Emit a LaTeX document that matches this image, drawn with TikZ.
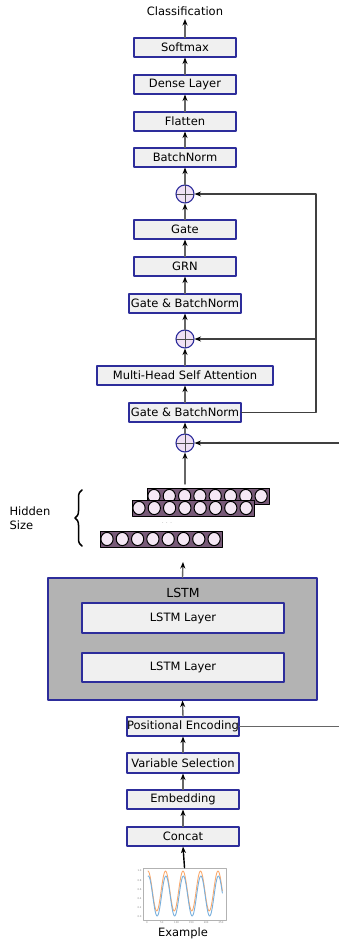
\documentclass[tikz,border=0pt]{standalone}
\usepackage{fontspec}
\setmainfont{DejaVu Sans}
\usetikzlibrary{arrows.meta,decorations.pathreplacing}
\definecolor{navy}{RGB}{45,45,155}
\definecolor{boxgray}{RGB}{240,240,240}
\definecolor{lstmgray}{RGB}{179,179,179}
\definecolor{sumpink}{RGB}{240,225,245}
\definecolor{rowpurple}{RGB}{120,90,120}
\definecolor{cellpink}{RGB}{245,232,245}
\definecolor{curveorange}{RGB}{250,170,110}
\definecolor{curveblue}{RGB}{120,175,220}

\begin{document}
\begin{tikzpicture}[line cap=round,line join=round,x=1pt,y=-1pt,
    font=\fontsize{11.5}{14}\selectfont,
    blk/.style={draw=navy,fill=boxgray,line width=1.1pt,minimum height=19pt,inner sep=0pt},
    sum/.style={circle,draw=navy,fill=sumpink,line width=1.1pt,minimum size=18pt,inner sep=0pt,
      path picture={\draw[black!70,line width=0.8pt]
        (path picture bounding box.north) -- (path picture bounding box.south)
        (path picture bounding box.west) -- (path picture bounding box.east);}},
    arr/.style={draw=black!60,line width=1.4pt,-{Stealth[length=6.5pt,width=5pt,black]}}]
\useasboundingbox (0,0) rectangle (339,945);
		% sortie
		\node (cls) at (185,11) {Classification};
		\node[blk,minimum width=102pt] (soft) at (185,47.5) {Softmax};
		\node[blk,minimum width=102pt] (dense) at (185,84.5) {Dense Layer};
		\node[blk,minimum width=102pt] (flat) at (185,121.5) {Flatten};
		\node[blk,minimum width=102pt] (bn) at (185,157.5) {BatchNorm};
		% attention
		\node[sum] (p1) at (185,194) {};
		\node[blk,minimum width=102pt] (gate) at (185,229.5) {Gate};
		\node[blk,minimum width=102pt] (grn) at (185,266.5) {GRN};
		\node[blk,minimum width=112pt] (gbn1) at (185,303.5) {Gate \& BatchNorm};
		\node[sum] (p2) at (185,339) {};
		\node[blk,minimum width=176pt] (mhsa) at (185,375.5) {Multi-Head Self Attention};
		\node[blk,minimum width=112pt] (gbn2) at (185,412.5) {Gate \& BatchNorm};
		\node[sum] (p3) at (185,443) {};
		\coordinate (hid) at (185,484);
		\coordinate (fb) at (316,339);
		\coordinate (resin) at (339,443);
		% sorties cachees
		\foreach \xa/\ya in {147/488,132/500,100/531}{
			\filldraw[fill=rowpurple,line width=1pt] (\xa,\ya) rectangle ++(122.5,16);
			\foreach \i in {0,...,7}
				\filldraw[fill=cellpink,line width=1pt] (\xa+7+15.3*\i,\ya+8) ellipse (6.1 and 6.6);
		}
		\node[text=gray,font=\fontsize{5}{5}\selectfont] (dots) at (167,523) {.\,\,\,.\,\,\,.};
		\draw[decorate,decoration={brace,amplitude=7pt},line width=1.5pt] (82,546) -- (82,490);
		\node[anchor=west,align=left] (hsize) at (6,518) {Hidden\\Size};
		% LSTM
		\node[draw=navy,fill=lstmgray,line width=1.1pt,minimum width=269pt,minimum height=122pt,inner sep=0pt] (lstm) at (182.5,639) {};
		\node[font=\fontsize{12.5}{14}\selectfont] (lstmlab) at (183,593) {LSTM};
		\node[blk,minimum width=202pt,minimum height=30pt] (l1) at (183,618) {LSTM Layer};
		\node[blk,minimum width=202pt,minimum height=29pt] (l2) at (183,667.5) {LSTM Layer};
		\coordinate (lout) at (183,562);
		% entree
		\node[blk,minimum width=112pt] (pe) at (183,726.5) {Positional Encoding};
		\node[blk,minimum width=112pt,minimum height=20pt] (vs) at (183,763) {Variable Selection};
		\node[blk,minimum width=112pt] (emb) at (183,799.5) {Embedding};
		\node[blk,minimum width=112pt] (cat) at (183,836.5) {Concat};
		\coordinate (peout) at (339,726.5);
		\node[draw=gray!60,line width=0.8pt,minimum width=83pt,minimum height=52pt,inner sep=0pt] (plot) at (184.5,894) {};
		\draw[curveorange,line width=0.9pt,domain=0:4.25,samples=120] plot ({148+17.5*\x},{891-20*cos(360*\x)});
		\draw[curveblue,line width=0.9pt,domain=0:4.25,samples=120] plot ({148+17.5*\x},{896-20*cos(360*\x-8)});
		\foreach \v [count=\k from 0] in {1.0,0.8,0.6,0.4,0.2,0.0}
			\node[text=gray,font=\fontsize{2.5}{3}\selectfont,inner sep=0pt] at (139.5,871+9.2*\k) {\v};
		\foreach \v [count=\k from 0] in {0,50,100,150,200,250}
			\node[text=gray,font=\fontsize{2.5}{3}\selectfont,inner sep=0pt] at (147+14.8*\k,922.5) {\v};
		\node (ex) at (183,933) {Example};
		% connexions
		\draw[arr] (soft.north) -- (cls.south);
		\draw[arr] (dense.north) -- (soft.south);
		\draw[arr] (flat.north) -- (dense.south);
		\draw[arr] (bn.north) -- (flat.south);
		\draw[arr] (p1.north) -- (bn.south);
		\draw[arr] (gate.north) -- (p1.south);
		\draw[arr] (grn.north) -- (gate.south);
		\draw[arr] (gbn1.north) -- (grn.south);
		\draw[arr] (p2.north) -- (gbn1.south);
		\draw[arr] (mhsa.north) -- (p2.south);
		\draw[arr] (gbn2.north) -- (mhsa.south);
		\draw[arr] (p3.north) -- (gbn2.south);
		\draw[arr] (hid) -- (p3.south);
		\draw[arr,draw=black!75,line width=1.2pt] (gbn2.east) -| (fb) |- (p1.east);
		\draw[arr,draw=black!75,line width=1.2pt] (fb) -- (p2.east);
		\draw[arr,draw=black!75,line width=1.2pt] (resin) -- (p3.east);
		\draw[arr] (lstm.north) -- (lout);
		\draw[arr] (pe.north) -- (lstm.south);
		\draw[draw=black!60,line width=1.4pt] (pe.east) -- (peout);
		\draw[arr] (vs.north) -- (pe.south);
		\draw[arr] (emb.north) -- (vs.south);
		\draw[arr] (cat.north) -- (emb.south);
		\draw[arr,draw=black] (plot.north) -- (cat.south);
\end{tikzpicture}
\end{document}
